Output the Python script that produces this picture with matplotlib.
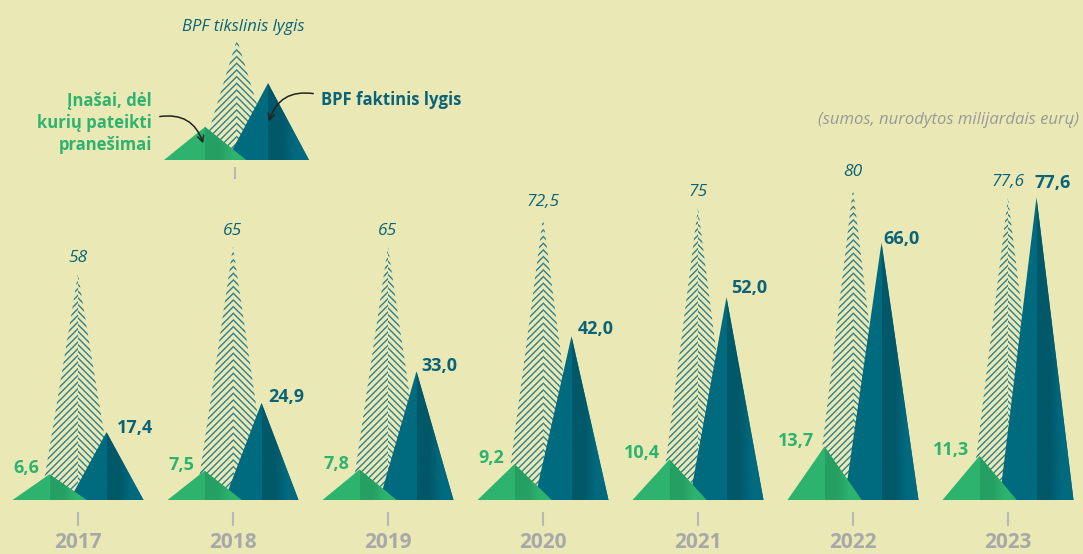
import numpy as np
import matplotlib.pyplot as plt
from matplotlib.patches import Polygon
from matplotlib.colors import LinearSegmentedColormap

plt.rcParams['font.family'] = ['Open Sans', 'DejaVu Sans']
plt.rcParams['hatch.linewidth'] = 1.0

# ======================= Duomenys (mlrd. eurų) =======================
years = ['2017', '2018', '2019', '2020', '2021', '2022', '2023']
target = [58, 65, 65, 72.5, 75, 80, 77.6]          # BPF tikslinis lygis
actual = [17.4, 24.9, 33.0, 42.0, 52.0, 66.0, 77.6]  # BPF faktinis lygis
contrib = [6.6, 7.5, 7.8, 9.2, 10.4, 13.7, 11.3]    # įnašai, dėl kurių pateikti pranešimai
target_labels = ['58', '65', '65', '72,5', '75', '80', '77,6']

# legendos "pavyzdinės" piramidės aukščiai
legend_heights = {'target': 31, 'actual': 19.7, 'contrib': 8.5}

# ======================= Išdėstymas =======================
W, H, DPI = 1083, 554, 100
X0, DX = 78, 155        # pirmųjų metų x (px), atstumas tarp metų (px)
BASE, PPU = 500, 3.9    # bazinė linija (px), px vienam mlrd.
HW = 37 / DX            # pusė trikampio pločio
OFF = 28.5 / DX         # šoninių trikampių poslinkis
# vertės etikečių poslinkiai (px)
teal_dx = [10, 7, 5, 6, 5, 2, -2]
teal_dy = [4, 6, 5, 7, 9, 4, 14]

BG = '#eae9b5'
GREEN, GREEN_D = '#2eb36f', '#25a062'
TEAL, TEAL_D = '#006a7f', '#005869'
HATCH = '#2f7e8d'
TEXT_TEAL = '#0b6378'
GREY = '#a8a8a8'


def px(x, y):
    """pikseliai (nuo viršaus kairės) -> duomenų koordinatės"""
    return (x - X0) / DX, (BASE - y) / PPU


def pyramid(ax, xc, y0, h, hw, col, dark, z):
    ax.add_patch(Polygon([(xc - hw, y0), (xc, y0 + h), (xc + hw, y0)],
                         closed=True, fc=col, ec='none', zorder=z))
    right = Polygon([(xc, y0), (xc, y0 + h), (xc + hw, y0)],
                    closed=True, fc='none', ec='none', zorder=z)
    ax.add_patch(right)
    # tamsesnė juosta prie viršūnės, link krašto šviesėja
    cmap = LinearSegmentedColormap.from_list('shade', [dark, dark, col, col])
    im = ax.imshow(np.linspace(0, 1, 64).reshape(1, -1), cmap=cmap,
                   extent=[xc, xc + hw, y0, y0 + h], aspect='auto',
                   interpolation='bilinear', zorder=z)
    im.set_clip_path(right)


def spire(ax, xc, y0, h, hw, z):
    halves = [([(xc - hw, y0), (xc, y0 + h), (xc, y0)], '/////'),
              ([(xc, y0), (xc, y0 + h), (xc + hw, y0)], '\\\\\\\\\\')]
    for pts, hatch in halves:
        ax.add_patch(Polygon(pts, closed=True, fc=BG, ec=HATCH, lw=0,
                             hatch=hatch, zorder=z))


fig = plt.figure(figsize=(W / DPI, H / DPI), dpi=DPI, facecolor=BG)
ax = fig.add_axes([0, 0, 1, 1])
ax.set_facecolor(BG)

for i, yr in enumerate(years):
    spire(ax, i, 0, target[i], HW, 1)
    pyramid(ax, i + OFF, 0, actual[i], HW, TEAL, TEAL_D, 2)
    pyramid(ax, i - OFF, 0, contrib[i], HW, GREEN, GREEN_D, 3)

    ax.text(i, target[i] + 15.5 / PPU, target_labels[i], ha='center', va='center',
            style='italic', color=TEXT_TEAL, fontsize=12.5, zorder=5)
    ax.text(i + OFF + teal_dx[i] / DX, actual[i] + teal_dy[i] / PPU,
            f"{actual[i]:.1f}".replace('.', ','), ha='left', va='center',
            weight='bold', color=TEXT_TEAL, fontsize=13, zorder=5)
    ax.text(i - OFF - 10 / DX, contrib[i] + 6 / PPU,
            f"{contrib[i]:.1f}".replace('.', ','), ha='right', va='center',
            weight='bold', color=GREEN, fontsize=13, zorder=5)

    ax.plot([i, i], [-13 / PPU, -25 / PPU], color='#b8b8b8', lw=1.5)
    ax.text(i, -42 / PPU, yr, ha='center', va='center', weight='bold',
            color=GREY, fontsize=15)

# ======================= Legenda =======================
lx, lb = px(235, 160)
lhw = 41 / DX
spire(ax, lx + 2 / DX, lb, legend_heights['target'], HW, 1)
pyramid(ax, lx + 33 / DX, lb, legend_heights['actual'], lhw, TEAL, TEAL_D, 2)
pyramid(ax, lx - 30 / DX, lb, legend_heights['contrib'], lhw, GREEN, GREEN_D, 3)
ax.plot([lx, lx], [lb - 8 / PPU, lb - 18 / PPU], color='#b8b8b8', lw=1.5)

ax.text(*px(243, 27), 'BPF tikslinis lygis', ha='center', va='center',
        style='italic', color=TEXT_TEAL, fontsize=12)
ax.text(*px(321, 100), 'BPF faktinis lygis', ha='left', va='center',
        weight='bold', color=TEXT_TEAL, fontsize=12)
ax.text(*px(152, 123), 'Įnašai, dėl\nkurių pateikti\npranešimai', ha='right',
        va='center', multialignment='right', weight='bold', color=GREEN,
        fontsize=12, linespacing=1.3)

ax.annotate('', xy=px(268, 124), xytext=px(316, 94),
            arrowprops=dict(arrowstyle='->', color='#222222', lw=1.1,
                            connectionstyle='arc3,rad=0.45', mutation_scale=11),
            zorder=6)
ax.annotate('', xy=px(204, 146), xytext=px(157, 117),
            arrowprops=dict(arrowstyle='->', color='#222222', lw=1.1,
                            connectionstyle='arc3,rad=-0.45', mutation_scale=11),
            zorder=6)

ax.text(*px(1079, 120), '(sumos, nurodytos milijardais eurų)', ha='right',
        va='center', style='italic', color='#999999', fontsize=12)

ax.set_xlim(-X0 / DX, (W - X0) / DX)
ax.set_ylim(-(H - BASE) / PPU, BASE / PPU)
ax.axis('off')

fig.savefig('out.png', dpi=DPI, facecolor=BG)
